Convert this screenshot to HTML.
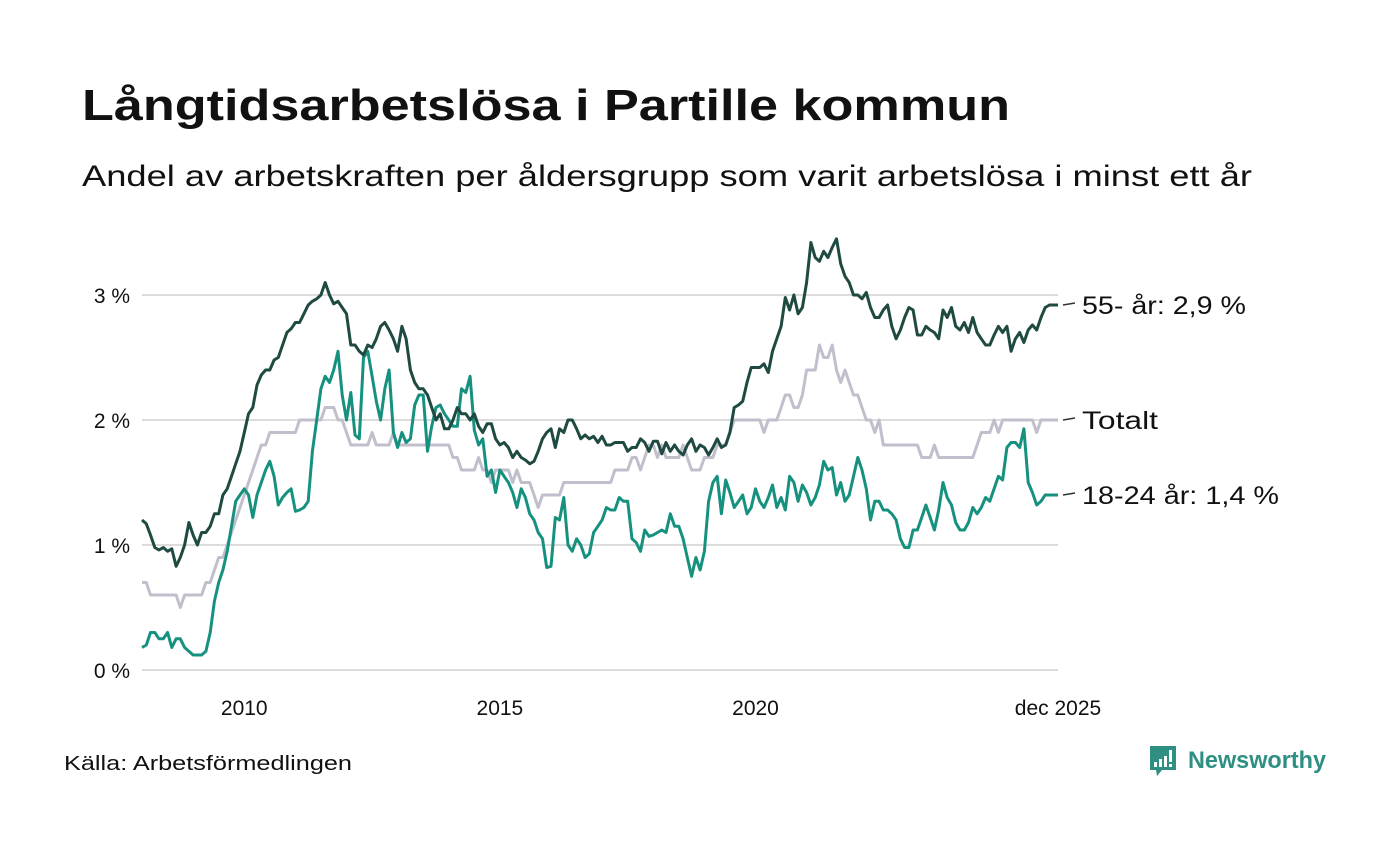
<!DOCTYPE html>
<html><head><meta charset="utf-8"><style>
body{margin:0;background:#fff;width:1400px;height:840px;overflow:hidden;font-family:"Liberation Sans",sans-serif;}
</style></head><body>
<svg width="1400" height="840" xmlns="http://www.w3.org/2000/svg">
<text x="82" y="120" font-size="44" font-weight="bold" fill="#111" textLength="928" lengthAdjust="spacingAndGlyphs">Långtidsarbetslösa i Partille kommun</text>
<text x="82" y="186" font-size="30" fill="#111" textLength="1170" lengthAdjust="spacingAndGlyphs">Andel av arbetskraften per åldersgrupp som varit arbetslösa i minst ett år</text>
<g id="grid"></g><g id="lines"></g><g id="labels"></g>
<text x="64" y="770" font-size="20" fill="#111" textLength="288" lengthAdjust="spacingAndGlyphs">Källa: Arbetsförmedlingen</text>
<g>
<path d="M1150 746h26v24h-14l-5 6-1-6h-6z" fill="#2e8f82"/>
<rect x="1154" y="762" width="3" height="5" fill="#fff"/><rect x="1159" y="759" width="3" height="8" fill="#fff"/><rect x="1164" y="756" width="3" height="11" fill="#fff"/><rect x="1169" y="750" width="3" height="12" fill="#fff"/><rect x="1169" y="764" width="3" height="3" fill="#fff"/>
<text x="1188" y="768" font-size="24" font-weight="bold" fill="#2e8f82" textLength="138" lengthAdjust="spacingAndGlyphs">Newsworthy</text>
</g>
</svg>
<script>
const yearTicks=[2010,2015,2020];
const yTicks=[0,1,2,3];
const s55=[1.2,1.17,1.08,0.98,0.96,0.98,0.95,0.97,0.83,0.9,1.0,1.18,
1.08,1.0,1.1,1.1,1.15,1.25,1.25,1.4,1.45,1.55,1.65,1.75,
1.9,2.05,2.1,2.28,2.36,2.4,2.4,2.48,2.5,2.6,2.7,2.73,
2.78,2.78,2.85,2.92,2.95,2.97,3.0,3.1,3.0,2.93,2.95,2.9,
2.85,2.6,2.6,2.55,2.52,2.6,2.58,2.65,2.75,2.78,2.72,2.65,
2.55,2.75,2.65,2.4,2.3,2.25,2.25,2.2,2.1,2.0,2.05,1.93,
1.93,2.0,2.1,2.05,2.05,2.0,2.05,1.95,1.9,1.97,1.97,1.85,
1.8,1.82,1.78,1.7,1.75,1.7,1.68,1.65,1.67,1.75,1.85,1.9,
1.93,1.78,1.93,1.9,2.0,2.0,1.93,1.85,1.88,1.85,1.87,1.82,
1.87,1.8,1.8,1.82,1.82,1.82,1.75,1.78,1.78,1.85,1.82,1.75,
1.83,1.83,1.73,1.82,1.75,1.8,1.75,1.72,1.8,1.85,1.75,1.8,
1.78,1.72,1.78,1.85,1.78,1.8,1.9,2.1,2.12,2.15,2.3,2.42,
2.42,2.42,2.45,2.38,2.55,2.65,2.75,2.98,2.88,3.0,2.85,2.9,
3.1,3.42,3.3,3.27,3.35,3.3,3.38,3.45,3.25,3.15,3.1,3.0,
3.0,2.97,3.02,2.9,2.82,2.82,2.88,2.92,2.75,2.65,2.72,2.82,
2.9,2.88,2.68,2.68,2.75,2.72,2.7,2.65,2.88,2.82,2.9,2.75,
2.72,2.78,2.7,2.82,2.7,2.65,2.6,2.6,2.68,2.75,2.7,2.75,
2.55,2.65,2.7,2.62,2.72,2.76,2.72,2.82,2.9,2.92,2.92,2.92];
const sTot=[0.7,0.7,0.6,0.6,0.6,0.6,0.6,0.6,0.6,0.5,0.6,0.6,
0.6,0.6,0.6,0.7,0.7,0.8,0.9,0.9,1.0,1.1,1.2,1.3,
1.4,1.5,1.6,1.7,1.8,1.8,1.9,1.9,1.9,1.9,1.9,1.9,
1.9,2.0,2.0,2.0,2.0,2.0,2.0,2.1,2.1,2.1,2.0,2.0,
1.9,1.8,1.8,1.8,1.8,1.8,1.9,1.8,1.8,1.8,1.8,1.9,
1.8,1.8,1.8,1.8,1.8,1.8,1.8,1.8,1.8,1.8,1.8,1.8,
1.8,1.7,1.7,1.6,1.6,1.6,1.6,1.7,1.6,1.6,1.5,1.6,
1.6,1.6,1.6,1.5,1.6,1.5,1.5,1.5,1.4,1.3,1.4,1.4,
1.4,1.4,1.4,1.5,1.5,1.5,1.5,1.5,1.5,1.5,1.5,1.5,
1.5,1.5,1.5,1.6,1.6,1.6,1.6,1.7,1.7,1.6,1.7,1.8,
1.8,1.7,1.8,1.7,1.7,1.7,1.7,1.8,1.7,1.6,1.6,1.6,
1.7,1.7,1.7,1.8,1.8,1.8,1.9,2.0,2.0,2.0,2.0,2.0,
2.0,2.0,1.9,2.0,2.0,2.0,2.1,2.2,2.2,2.1,2.1,2.2,
2.4,2.4,2.4,2.6,2.5,2.5,2.6,2.4,2.3,2.4,2.3,2.2,
2.2,2.1,2.0,2.0,1.9,2.0,1.8,1.8,1.8,1.8,1.8,1.8,
1.8,1.8,1.8,1.7,1.7,1.7,1.8,1.7,1.7,1.7,1.7,1.7,
1.7,1.7,1.7,1.7,1.8,1.9,1.9,1.9,2.0,1.9,2.0,2.0,
2.0,2.0,2.0,2.0,2.0,2.0,1.9,2.0,2.0,2.0,2.0,2.0];
const s1824=[0.18,0.2,0.3,0.3,0.25,0.25,0.3,0.18,0.25,0.25,0.18,0.15,
0.12,0.12,0.12,0.15,0.3,0.55,0.7,0.8,0.95,1.15,1.35,1.4,
1.45,1.4,1.22,1.4,1.5,1.6,1.67,1.55,1.32,1.38,1.42,1.45,
1.27,1.28,1.3,1.35,1.75,2.0,2.25,2.35,2.3,2.4,2.55,2.2,
2.0,2.22,1.88,1.85,2.5,2.55,2.35,2.15,2.0,2.25,2.4,1.9,
1.78,1.9,1.82,1.85,2.12,2.2,2.2,1.75,1.95,2.1,2.12,2.05,
2.0,1.95,1.95,2.25,2.22,2.35,1.92,1.8,1.85,1.55,1.6,1.42,
1.6,1.55,1.5,1.42,1.3,1.45,1.38,1.25,1.2,1.1,1.05,0.82,
0.83,1.22,1.2,1.38,1.0,0.95,1.05,1.0,0.9,0.93,1.1,1.15,
1.2,1.3,1.28,1.28,1.38,1.35,1.35,1.05,1.02,0.95,1.12,1.07,
1.08,1.1,1.12,1.1,1.25,1.15,1.15,1.05,0.9,0.75,0.9,0.8,
0.95,1.35,1.5,1.55,1.25,1.52,1.42,1.3,1.35,1.4,1.25,1.3,
1.45,1.35,1.3,1.38,1.48,1.3,1.38,1.28,1.55,1.5,1.35,1.48,
1.42,1.32,1.38,1.48,1.67,1.6,1.62,1.4,1.5,1.35,1.4,1.55,
1.7,1.6,1.45,1.2,1.35,1.35,1.28,1.28,1.25,1.2,1.05,0.98,
0.98,1.12,1.12,1.22,1.32,1.22,1.12,1.28,1.5,1.38,1.32,1.18,
1.12,1.12,1.18,1.3,1.25,1.3,1.38,1.35,1.45,1.55,1.52,1.78,
1.82,1.82,1.78,1.93,1.5,1.42,1.32,1.35,1.4,1.4,1.4,1.4];
const NS="http://www.w3.org/2000/svg";
const x0=142,x1=1058,n=s55.length;
const xm=i=>x0+(x1-x0)*i/(n-1);
const xy=yr=>xm((yr-2008)*12);
const y=v=>670-125*v;
function mk(tag,attrs,parent){const e=document.createElementNS(NS,tag);for(const k in attrs)e.setAttribute(k,attrs[k]);document.getElementById(parent).appendChild(e);return e;}
yTicks.forEach(t=>{
 const l=mk('line',{x1:142,x2:1058,y1:y(t),y2:y(t),stroke:'#dcdcdc','stroke-width':2},'grid');
 
 
 const tx=mk('text',{x:130,y:y(t)+8,'text-anchor':'end','font-size':21,fill:'#111'},'grid');
 tx.textContent=t+' %';
 
 
});
yearTicks.forEach(t=>{
 const tx=mk('text',{x:xy(t),y:715,'text-anchor':'middle','font-size':21,fill:'#111'},'grid');
 tx.textContent=t;
 
 
});
const last=mk('text',{x:x1,y:715,'text-anchor':'middle','font-size':21,fill:'#111'},'grid');
last.textContent='dec 2025';


const series=[[sTot,'#c2bfcd','line-totalt','Totalt',76],[s1824,'#17917f','line-18-24','18-24 år: ',197],[s55,'#1f4a42','line-55','55- år: ',164]];
series.forEach(([d,c,name,lab,w])=>{
 const p=mk('path',{d:d.map((v,i)=>(i?'L':'M')+xm(i).toFixed(1)+' '+y(v).toFixed(1)).join(''),fill:'none',stroke:c,'stroke-width':3,'stroke-linejoin':'round'},'lines');
 
 
 const v=d[d.length-1];
 const ly=y(v);
 mk('line',{x1:1063,x2:1075,y1:ly,y2:ly-2,stroke:'#333','stroke-width':1.5},'labels');
 const t=mk('text',{x:1082,y:ly+9,'font-size':25,fill:'#111',textLength:w,lengthAdjust:'spacingAndGlyphs'},'labels');
 t.textContent=lab==='Totalt'?'Totalt':lab+v.toFixed(1).replace('.',',')+' %';
 
 
});
</script>
</body></html>
